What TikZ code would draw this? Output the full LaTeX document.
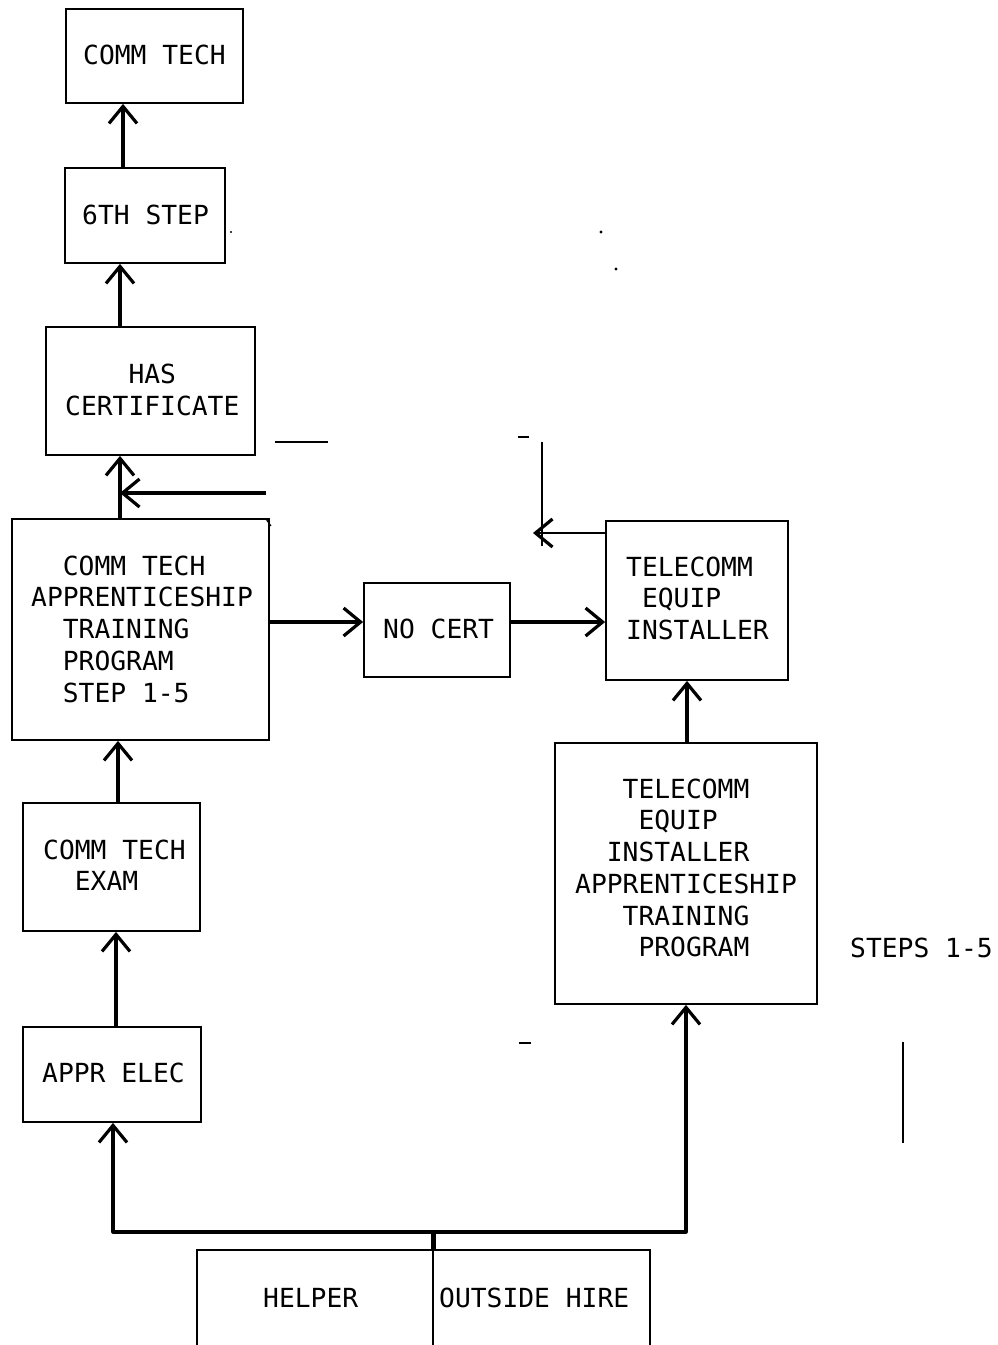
\documentclass[tikz,border=0pt]{standalone}
\usepackage{fontspec}
\newfontfamily\twfont{DejaVu Sans Mono}
\usetikzlibrary{arrows.meta}
\newcommand{\mlines}[1]{\begin{tabular}[t]{@{}l@{}}#1\end{tabular}}
\newcommand{\indn}[1]{\hspace*{#1\fontcharwd\font`X}}
\begin{document}
\begin{tikzpicture}[x=1pt,y=-1pt,
  box/.style={draw, line width=1.8pt, inner sep=0pt},
  txt/.style={inner sep=0pt, anchor=base west, font=\twfont\fontsize{26.3}{31.75}\selectfont},
  conn/.style={line width=3.2pt},
  arr/.style={line width=3.2pt, line join=round, -{Straight Barb[length=17pt,width=28pt,line width=3.2pt]}},
  frag/.style={line width=1.8pt},
]
\useasboundingbox[fill=white] (0,0) rectangle (998,1345);
\clip (0,0) rectangle (998,1345);

% boxes
\node[box, minimum width=177pt, minimum height=94pt]  (ct)      at (154.5,56)   {};
\node[box, minimum width=160pt, minimum height=95pt]  (st6)     at (145,215.5)  {};
\node[box, minimum width=209pt, minimum height=128pt] (hc)      at (150.5,391)  {};
\node[box, minimum width=257pt, minimum height=221pt] (ctatp)   at (140.5,629.5){};
\node[box, minimum width=146pt, minimum height=94pt]  (nocert)  at (437,630)    {};
\node[box, minimum width=182pt, minimum height=159pt] (tei)     at (697,600.5)  {};
\node[box, minimum width=262pt, minimum height=261pt] (teiatp)  at (686,873.5)  {};
\node[box, minimum width=177pt, minimum height=128pt] (exam)    at (111.5,867)  {};
\node[box, minimum width=178pt, minimum height=95pt]  (appr)    at (112,1074.5) {};
\node[box, minimum width=236pt, minimum height=110pt] (helper)  at (315,1305)   {};
\node[box, minimum width=217pt, minimum height=110pt] (outside) at (541.5,1305) {};

% texts
\node[txt] (ct-t)      at (83,64)   {COMM TECH};
\node[txt] (st6-t)     at (82,224)  {6TH STEP};
\node[txt] (hc-t)      at (65,383)  {\mlines{\indn{4}HAS\\[1.2pt] CERTIFICATE}};
\node[txt] (ctatp-t)   at (31,575)  {\mlines{\indn{2}COMM TECH\\ APPRENTICESHIP\\ \indn{2}TRAINING\\ \indn{2}PROGRAM\\ \indn{2}STEP 1-5}};
\node[txt] (nocert-t)  at (383,638) {NO CERT};
\node[txt] (tei-t)     at (626,576) {\mlines{TELECOMM\\ \indn{1}EQUIP\\ INSTALLER}};
\node[txt] (teiatp-t)  at (575,798) {\mlines{\indn{3}TELECOMM\\ \indn{4}EQUIP\\ \indn{2}INSTALLER\\ APPRENTICESHIP\\ \indn{3}TRAINING\\ \indn{4}PROGRAM}};
\node[txt] (steps-t)   at (850,957) {STEPS 1-5};
\node[txt] (exam-t)    at (43,859)  {\mlines{COMM TECH\\ \indn{2}EXAM}};
\node[txt] (appr-t)    at (42,1082) {APPR ELEC};
\node[txt] (helper-t)  at (263,1307) {HELPER};
\node[txt] (outside-t) at (439,1307) {OUTSIDE HIRE};

% connector guide coordinates
\coordinate (xa) at (123,0);
\coordinate (xb) at (120,0);
\coordinate (xc) at (118,0);
\coordinate (xd) at (116,0);
\coordinate (xe) at (113,0);
\coordinate (xf) at (687,0);
\coordinate (xg) at (686,0);
\coordinate (ya) at (0,622);
\coordinate (yb) at (0,533);
\coordinate (fb) at (266,493);
\coordinate (jn) at (433,1232);
\coordinate (tp) at (533,533);

% vertical chain on the left
\draw[arr] (xa |- st6.north) -- (xa |- ct.south);
\draw[arr] (xb |- hc.north) -- (xb |- st6.south);
\draw[arr] (xb |- ctatp.north) -- (xb |- hc.south);
\draw[arr] (fb) -- (xb |- fb);
\draw[arr] (xc |- exam.north) -- (xc |- ctatp.south);
\draw[arr] (xd |- appr.north) -- (xd |- exam.south);

% horizontal chain
\draw[arr] (ctatp.east |- ya) -- (nocert.west |- ya);
\draw[arr] (nocert.east |- ya) -- (tei.west |- ya);
\draw[arr] (xf |- teiatp.north) -- (xf |- tei.south);

% feedback fragment from installer
\draw[arr, line width=2.4pt] (tei.west |- yb) -- (tp);
\draw[frag] (542,442) -- (542,546);
\draw[frag] (518,437) -- (529,437);
\draw[frag] (275,442) -- (328,442);
\draw[frag, line width=1.2pt] (266,519) -- (271,526);

% bottom distribution
\draw[arr] (jn) -- (xe |- jn) -- (xe |- appr.south);
\draw[arr] (jn) -- (xg |- jn) -- (xg |- teiatp.south);
\draw[line width=5pt] (jn) -- (jn |- helper.north);

% stray marks of the original
\draw[frag, line width=1.5pt] (903,1042) -- (903,1143);
\draw[frag] (519,1043) -- (531,1043);
\fill (601,232) circle (1.6pt);
\fill (616,269) circle (1.6pt);
\fill (231,232) circle (1.1pt);
\end{tikzpicture}
\end{document}
